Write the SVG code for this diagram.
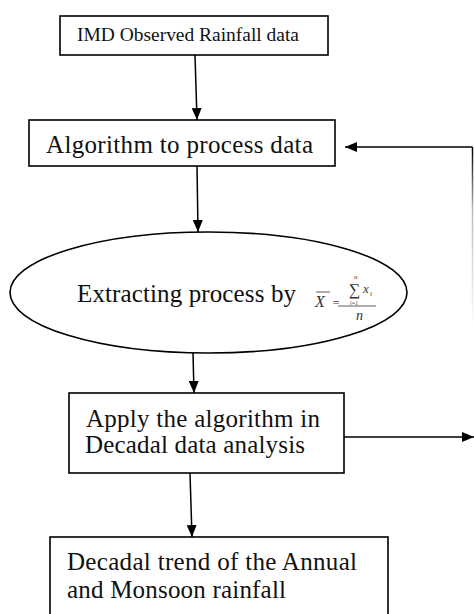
<svg xmlns="http://www.w3.org/2000/svg" width="474" height="614" viewBox="0 0 474 614">
<style>
.box{fill:#fff;stroke:#000;stroke-width:1.6}
text{font-family:"Liberation Serif","Times New Roman","DejaVu Serif",serif}
.t{fill:#111}
.m{font-style:italic;fill:#333}
.c{stroke:#000;stroke-width:1.5;fill:none}
</style>
<defs>
<marker id="ah" viewBox="0 0 12 10" refX="12" refY="5" markerWidth="12" markerHeight="10" markerUnits="userSpaceOnUse" orient="auto">
<path d="M0,0 L12,5 L0,10 z" fill="#000"/>
</marker>
<linearGradient id="fade" gradientUnits="userSpaceOnUse" x1="0" y1="147" x2="0" y2="330">
<stop offset="0" stop-color="#000"/>
<stop offset="0.35" stop-color="#bbb"/>
<stop offset="1" stop-color="#fff"/>
</linearGradient>
</defs>
<g id="connectors">
<line class="c" x1="195" y1="55" x2="197" y2="120" marker-end="url(#ah)"/>
<line class="c" x1="197" y1="166" x2="198" y2="232" marker-end="url(#ah)"/>
<line class="c" x1="193" y1="353" x2="194" y2="393" marker-end="url(#ah)"/>
<line class="c" x1="190" y1="473" x2="192" y2="537" marker-end="url(#ah)"/>
<line class="c" x1="344" y1="437" x2="474" y2="437" marker-end="url(#ah)"/>
<line class="c" x1="472.5" y1="147" x2="345" y2="147" marker-end="url(#ah)"/>
<line x1="472.5" y1="147" x2="472.5" y2="330" stroke="url(#fade)" stroke-width="1.5"/>
</g>
<g id="n1">
<rect class="box" x="60" y="16" width="268" height="39"/>
<text class="t" x="77" y="41" font-size="18" textLength="222" lengthAdjust="spacingAndGlyphs">IMD Observed Rainfall data</text>
</g>
<g id="n2">
<rect class="box" x="29" y="120" width="306" height="46"/>
<text class="t" x="46" y="153" font-size="25" textLength="267" lengthAdjust="spacing">Algorithm to process data</text>
</g>
<g id="n3">
<ellipse class="box" cx="208.5" cy="292.5" rx="198.5" ry="60.5"/>
<text class="t" x="77" y="302" font-size="25" textLength="219" lengthAdjust="spacing">Extracting process by</text>
<g id="formula">
<text class="m" x="315" y="307" font-size="16">X</text>
<line x1="316" y1="292" x2="330" y2="292" stroke="#333" stroke-width="0.8"/>
<text class="m" x="332" y="307" font-size="12" font-style="normal">=</text>
<line x1="338" y1="306" x2="376" y2="306" stroke="#333" stroke-width="0.8"/>
<text class="m" x="349" y="295" font-size="16" font-style="normal">∑</text>
<text class="m" x="354" y="278.5" font-size="7">n</text>
<text class="m" x="363" y="293" font-size="13">x</text>
<text class="m" x="370" y="296" font-size="7">i</text>
<text class="m" x="350" y="305" font-size="5.5">i=1</text>
<text class="m" x="356" y="320" font-size="14">n</text>
</g>
</g>
<g id="n4">
<rect class="box" x="69" y="393" width="275" height="80"/>
<text class="t" x="86" y="427" font-size="25" textLength="234" lengthAdjust="spacing">Apply the algorithm in</text>
<text class="t" x="85" y="453" font-size="25" textLength="220" lengthAdjust="spacing">Decadal data analysis</text>
</g>
<g id="n5">
<rect class="box" x="50" y="537" width="338" height="90"/>
<text class="t" x="67" y="570" font-size="25" textLength="290" lengthAdjust="spacing">Decadal trend of the Annual</text>
<text class="t" x="67" y="598" font-size="25" textLength="219" lengthAdjust="spacing">and Monsoon rainfall</text>
</g>
</svg>
